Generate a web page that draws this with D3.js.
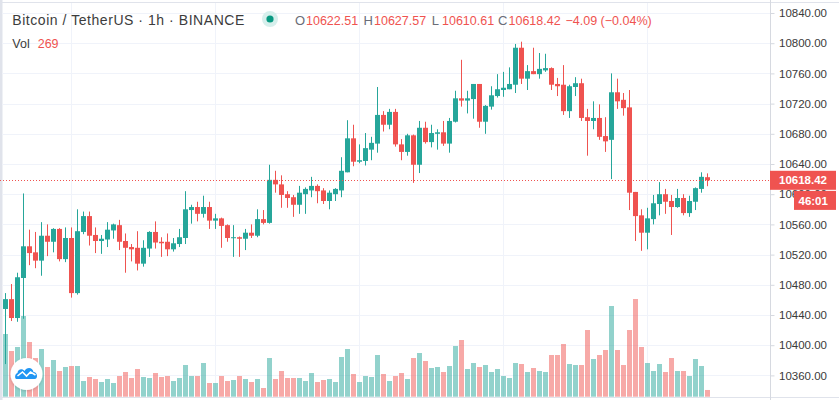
<!DOCTYPE html>
<html><head><meta charset="utf-8">
<script src="https://cdn.jsdelivr.net/npm/d3@7"></script>
<style>html,body{margin:0;padding:0;background:#fff;overflow:hidden}svg{display:block}</style>
</head><body><svg id="c" width="839" height="400"></svg>
<script>
// ---- data ----
const opens  = [10448,10461,10436,10489,10531,10523,10512,10545,10537,10554,10514,10542,10469,10550,10571,10546,10538,10540,10552,10559,
10538,10530,10529,10508,10528,10550,10537,10537,10527,10534,10542,10579,10583,10574,10583,10565,10568,10559,10542,10543,
10541,10549,10545,10567,10562,10619,10613,10600,10596,10586,10600,10605,10611,10605,10591,10600,10605,10629,10674,10643,
10644,10659,10667,10705,10692,10709,10666,10656,10678,10639,10688,10669,10680,10682,10667,10696,10727,10724,10726,10746,
10696,10716,10730,10738,10739,10745,10794,10753,10763,10759,10764,10767,10746,10745,10710,10742,10747,10702,10697,10701,
10677,10672,10735,10725,10715,10603,10572,10549,10567,10587,10600,10591,10583,10595,10575,10590,10607,10622.51];
const highs  = [10469,10481,10496,10601,10553,10550,10563,10560,10555,10555,10556,10556,10580,10577,10577,10556,10546,10563,10561,10566,
10548,10534,10551,10539,10551,10564,10543,10548,10542,10554,10604,10586,10590,10598,10590,10574,10569,10560,10559,10544,
10554,10560,10580,10579,10639,10631,10625,10604,10599,10611,10609,10623,10613,10608,10605,10608,10649,10698,10692,10666,
10681,10676,10742,10710,10713,10713,10673,10680,10679,10697,10696,10692,10686,10697,10701,10737,10778,10737,10746,10746,
10718,10743,10759,10762,10768,10799,10802,10771,10794,10787,10786,10768,10754,10771,10745,10755,10753,10713,10723,10719,
10702,10760,10753,10734,10738,10603,10580,10582,10599,10616,10607,10599,10607,10600,10598,10609,10629,10627.57];
const lows   = [10375,10432,10431,10435,10506,10502,10492,10518,10523,10511,10510,10463,10467,10547,10532,10522,10521,10530,10541,10526,
10496,10511,10499,10504,10517,10528,10517,10518,10524,10530,10534,10561,10564,10569,10554,10554,10529,10537,10517,10517,
10526,10542,10543,10560,10561,10602,10582,10582,10570,10574,10574,10596,10588,10587,10580,10591,10596,10629,10637,10641,
10638,10645,10655,10683,10686,10663,10645,10651,10615,10628,10667,10662,10659,10664,10655,10695,10716,10707,10700,10688,
10680,10712,10728,10729,10739,10734,10746,10738,10759,10753,10762,10738,10730,10705,10701,10730,10697,10651,10686,10672,
10656,10620,10713,10704,10579,10538,10525,10527,10560,10572,10574,10546,10582,10572,10570,10579,10602,10610.61];
const closes = [10461,10436,10490,10531,10522,10512,10545,10537,10554,10514,10542,10469,10551,10571,10545,10538,10541,10553,10560,10537,
10529,10527,10508,10529,10550,10536,10535,10527,10535,10543,10580,10583,10574,10583,10565,10568,10558,10542,10543,10541,
10549,10545,10567,10562,10619,10613,10599,10595,10586,10602,10607,10611,10604,10591,10602,10607,10631,10674,10643,10645,
10661,10668,10705,10692,10709,10666,10656,10678,10639,10688,10669,10681,10682,10667,10697,10727,10724,10727,10746,10696,
10717,10731,10739,10741,10746,10794,10753,10763,10759,10766,10767,10745,10743,10710,10743,10747,10701,10697,10701,10676,
10670,10735,10723,10714,10602,10571,10549,10568,10588,10600,10590,10583,10595,10575,10591,10608,10623,10618.42];
const volumes = [2508,1828,1988,3228,2188,1548,1908,1188,1468,1028,1188,1228,1228,628,788,708,588,708,548,828,
988,748,1108,788,748,948,788,828,628,748,1268,828,828,1348,548,548,828,628,668,828,
708,588,708,348,1548,708,1028,748,748,748,628,948,588,668,708,588,1588,1908,908,588,
828,788,1668,908,628,828,948,708,1548,1748,1428,1148,1188,988,1228,2028,2268,1108,1348,1188,
1268,988,1108,828,748,1348,1308,988,1148,1028,988,1668,1668,2108,1308,1268,1268,2668,1508,1668,
1868,3628,1868,1268,2668,3908,1988,1348,1028,1308,988,1548,1028,1028,828,1508,1228,269];
const priceTicks = [10360,10400,10440,10480,10520,10560,10600,10640,10680,10720,10760,10800,10840];
const dayStartIndex = [11,35,59,83,107];
const symbolTitle = "Bitcoin / TetherUS · 1h · BINANCE";
const lastPrice = 10618.42;
const priceChange = "−4.09 (−0.04%)";
const countdown = "46:01";

// ---- drawing ----
const UP = "#26a69a", DOWN = "#ef5350";
const FONT = "'Liberation Sans', Arial, sans-serif";
const svg = d3.select("#c");
const n = closes.length;
const plotRight = 770;
const x = d3.scaleLinear().domain([0, n - 1]).range([5.5, 707.5]);
const y = d3.scaleLinear().domain([10360, 10840]).range([375.4, 13]);
const v = d3.scaleLinear().domain([0, 4000]).range([396.7, 296.7]);
const crisp = p => Math.round(p) + 0.5;

// frame
svg.append("rect").attr("x",0).attr("y",0).attr("width",839).attr("height",400).attr("fill","#fff");
svg.append("line").attr("x1",0).attr("x2",839).attr("y1",2.5).attr("y2",2.5).attr("stroke","#e0e3eb");
svg.append("rect").attr("x",0).attr("y",0).attr("width",2.5).attr("height",400).attr("fill","#e0e3eb");
svg.append("line").attr("x1",0).attr("x2",839).attr("y1",397.5).attr("y2",397.5).attr("stroke","#e0e3eb");

// grid
const grid = svg.append("g").attr("stroke","#f0f3fa").attr("stroke-width",1);
grid.selectAll("line.h").data(priceTicks).join("line").attr("class","h")
  .attr("x1",2.5).attr("x2",plotRight).attr("y1",d=>crisp(y(d))).attr("y2",d=>crisp(y(d)));
grid.selectAll("line.v").data(dayStartIndex).join("line").attr("class","v")
  .attr("x1",d=>x(d)).attr("x2",d=>x(d)).attr("y1",3).attr("y2",397);

const idx = d3.range(n);
const isUp = i => closes[i] >= opens[i];

// volume
svg.append("g").selectAll("rect").data(idx).join("rect")
  .attr("x", i => x(i) - 2.5).attr("width", 5)
  .attr("y", i => v(volumes[i])).attr("height", i => v(0) - v(volumes[i]))
  .attr("fill", i => isUp(i) ? UP : DOWN).attr("fill-opacity", 0.5);

// candles
const cg = svg.append("g");
cg.selectAll("line").data(idx).join("line")
  .attr("x1", i => x(i)).attr("x2", i => x(i))
  .attr("y1", i => y(highs[i])).attr("y2", i => y(lows[i]))
  .attr("stroke", i => isUp(i) ? UP : DOWN).attr("stroke-width", 1);
cg.selectAll("rect").data(idx).join("rect")
  .attr("x", i => x(i) - 2.5).attr("width", 5)
  .attr("y", i => y(Math.max(opens[i], closes[i])))
  .attr("height", i => Math.max(1, Math.abs(y(opens[i]) - y(closes[i]))))
  .attr("fill", i => isUp(i) ? UP : DOWN);

// last price line
const ly = crisp(y(lastPrice));
svg.append("line").attr("x1",0).attr("x2",plotRight).attr("y1",ly).attr("y2",ly)
  .attr("stroke",DOWN).attr("stroke-width",1).attr("stroke-dasharray","1,2");

// price axis
const axis = d3.axisRight(y).tickValues(priceTicks).tickFormat(d3.format(".2f")).tickSize(4).tickPadding(4.5);
const ag = svg.append("g").attr("transform",`translate(${plotRight + 0.5},0)`).call(axis);
ag.select(".domain").attr("stroke","#d6d9e0").attr("d","M0,0V400");
ag.selectAll(".tick line").attr("stroke","#d6d9e0");
ag.selectAll(".tick text").attr("fill","#3a3a3a").attr("font-family",FONT).attr("font-size",11.5);

// last price label + countdown (partly covering the 10600.00 tick label, as in the reference)
svg.append("rect").attr("x",plotRight).attr("y",y(lastPrice)-9.5).attr("width",66).attr("height",19).attr("fill",DOWN);
svg.append("text").attr("x",779).attr("y",y(lastPrice)+4.2).attr("fill","#fff").attr("font-family",FONT)
  .attr("font-size",11.5).attr("font-weight","bold").text(d3.format(".2f")(lastPrice));
svg.append("rect").attr("x",794).attr("y",y(lastPrice)+10.6).attr("width",42).attr("height",19).attr("fill",DOWN);
svg.append("text").attr("x",798.5).attr("y",y(lastPrice)+24.3).attr("fill","#fff").attr("font-family",FONT)
  .attr("font-size",11.5).attr("font-weight","bold").text(countdown);

// legend
const lg = svg.append("g").attr("font-family",FONT);
lg.append("text").attr("x",12.3).attr("y",25).attr("font-size",14).attr("fill","#3c3c3c")
  .attr("textLength",232).attr("lengthAdjust","spacing").text(symbolTitle);
lg.append("circle").attr("cx",270).attr("cy",19).attr("r",8).attr("fill","#d6efec");
lg.append("circle").attr("cx",270).attr("cy",19).attr("r",3.6).attr("fill","#089981");
const ohlc = [["O",295,306,opens[n-1]],["H",363.5,374,highs[n-1]],["L",431.7,442,lows[n-1]],["C",498,508.5,closes[n-1]]];
ohlc.forEach(([k,kx,vx,val]) => {
  lg.append("text").attr("x",kx).attr("y",25).attr("font-size",13).attr("fill","#6a6d78").text(k);
  lg.append("text").attr("x",vx).attr("y",25).attr("font-size",12.5).attr("fill",DOWN).text(d3.format(".2f")(val));
});
lg.append("text").attr("x",565.5).attr("y",25).attr("font-size",12.5).attr("fill",DOWN).text(priceChange);
lg.append("text").attr("x",12.3).attr("y",47.7).attr("font-size",12.5).attr("fill","#3c3c3c").text("Vol");
lg.append("text").attr("x",37.7).attr("y",47.7).attr("font-size",12.5).attr("fill",DOWN).text(volumes[n-1]);

// TradingView logo
const defs = svg.append("defs");
const f = defs.append("filter").attr("id","sh").attr("x","-50%").attr("y","-50%").attr("width","200%").attr("height","200%");
f.append("feDropShadow").attr("dx",0).attr("dy",1).attr("stdDeviation",1.5).attr("flood-color","#000").attr("flood-opacity",0.18);
const logo = svg.append("g").attr("transform","translate(26.5,374)");
logo.append("circle").attr("r",16).attr("fill","#fff").attr("filter","url(#sh)");
logo.append("path").attr("fill","#2196f3")
  .attr("d","M-10,5 C-12,5 -12,0 -9,-1 C-9,-5 -4,-6 -2,-3 C0,-7 6,-7 7,-2 C11,-2 12,5 8,5 Z");
logo.append("path").attr("fill","none").attr("stroke","#fff").attr("stroke-width",1.6)
  .attr("d","M-9,2 L-4,-2 L0,2 L4,-2 L9,1");
</script></body></html>
